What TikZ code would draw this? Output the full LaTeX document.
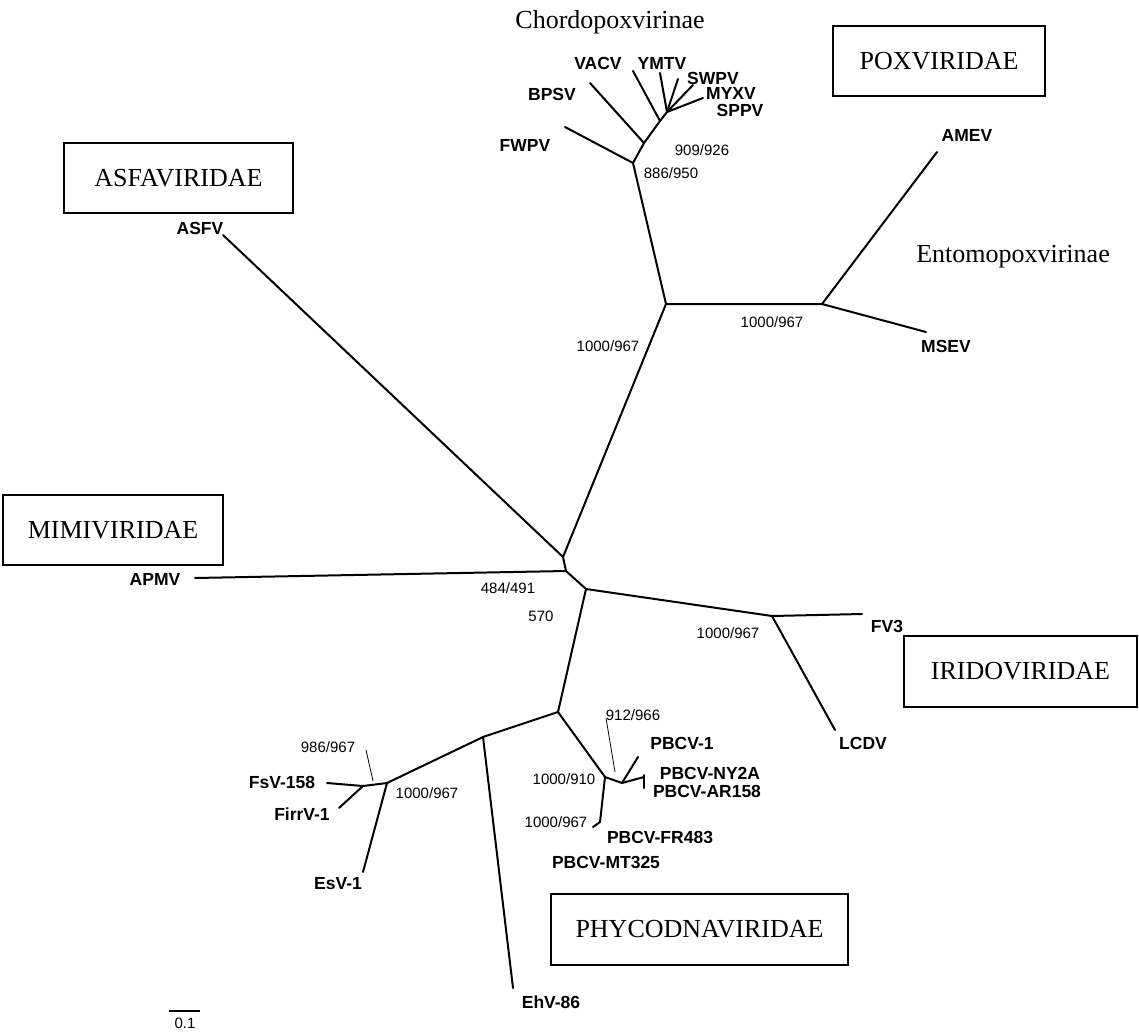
\documentclass[tikz,border=0pt]{standalone}
\usepackage{fontspec}
\setmainfont{Liberation Serif}
\newfontfamily\lsans{Liberation Sans}
\begin{document}
\begin{tikzpicture}[x=1pt,y=-1pt,
  br/.style={line width=2pt, line cap=round, line join=round},
  thinln/.style={line width=0.8pt},
  tax/.style={font=\lsans\bfseries\fontsize{17.5}{18}\selectfont, inner sep=0pt},
  bootlbl/.style={font=\lsans\fontsize{15}{16}\selectfont, inner sep=0pt},
  famtxt/.style={font=\fontsize{26}{28}\selectfont, inner sep=0pt},
  fambox/.style={draw, line width=2pt, font=\fontsize{26}{28}\selectfont, inner sep=0pt}]
\useasboundingbox (0,0) rectangle (1139,1032);
\fill[white] (0,0) rectangle (1139,1032);
% internal nodes
\coordinate (J) at (633,163);
\coordinate (K) at (644,143);
\coordinate (L) at (660,121);
\coordinate (N) at (667,112);
\coordinate (P) at (666,304);
\coordinate (Q) at (822,304);
\coordinate (A) at (563,557);
\coordinate (B) at (566,571);
\coordinate (C) at (586,589);
\coordinate (R) at (772,616);
\coordinate (D) at (558,712);
\coordinate (E) at (483,737);
\coordinate (F) at (387,783);
\coordinate (G) at (363,786);
\coordinate (H) at (605,777);
\coordinate (I) at (622,783);
\coordinate (X) at (644,777);
\coordinate (Hm) at (600,822);
% leaf ends
\coordinate (fwpvE) at (565,127);
\coordinate (bpsvE) at (590,83);
\coordinate (vacvE) at (633,71);
\coordinate (ymtvE) at (660,73);
\coordinate (l3E) at (678,79);
\coordinate (swpvE) at (693,85);
\coordinate (myxvE) at (703,98);
\coordinate (amevE) at (937,152);
\coordinate (msevE) at (926,332);
\coordinate (asfvE) at (223,235);
\coordinate (apmvE) at (195,578);
\coordinate (fv3E) at (862,614);
\coordinate (lcdvE) at (835,730);
\coordinate (ehvE) at (513,988);
\coordinate (esvE) at (363,872);
\coordinate (fsvE) at (327,783);
\coordinate (firrE) at (339,808);
\coordinate (pbcvE) at (638,757);
\coordinate (nyE) at (644,775);
\coordinate (arE) at (644,788);
\coordinate (mtE) at (593,827);
\coordinate (sb1) at (169,1011);
\coordinate (sb2) at (200,1011);
% branches
\draw[br] (P) -- (J) -- (fwpvE);
\draw[br] (J) -- (K) -- (bpsvE);
\draw[br] (K) -- (L) -- (vacvE);
\draw[br] (L) -- (N) -- (ymtvE);
\draw[br] (N) -- (l3E);
\draw[br] (N) -- (swpvE);
\draw[br] (N) -- (myxvE);
\draw[br] (P) -- (Q) -- (amevE);
\draw[br] (Q) -- (msevE);
\draw[br] (P) -- (A) -- (asfvE);
\draw[br] (A) -- (B) -- (apmvE);
\draw[br] (B) -- (C) -- (R) -- (fv3E);
\draw[br] (R) -- (lcdvE);
\draw[br] (C) -- (D) -- (E) -- (ehvE);
\draw[br] (E) -- (F) -- (esvE);
\draw[br] (F) -- (G) -- (fsvE);
\draw[br] (G) -- (firrE);
\draw[br] (D) -- (H) -- (Hm) -- (mtE);
\draw[br] (H) -- (I) -- (pbcvE);
\draw[br] (I) -- (X);
\draw[br] (nyE) -- (arE);
\draw[thinln] (366,750) -- (373,781);
\draw[thinln] (606,718) -- (615,772);
\draw[line width=1.2pt] (sb1) -- (sb2);
% taxon labels
\node[famtxt] (chordo) at (610,22) {Chordopoxvirinae};
\node[tax] (vacv) at (598,63) {VACV};
\node[tax] (ymtv) at (662,63) {YMTV};
\node[tax] (swpv) at (713,78) {SWPV};
\node[tax] (myxv) at (731,93) {MYXV};
\node[tax] (sppv) at (740,110) {SPPV};
\node[tax] (bpsv) at (552,94) {BPSV};
\node[tax] (fwpv) at (525,145) {FWPV};
\node[bootlbl] (b1) at (702,150) {909/926};
\node[bootlbl] (b2) at (671,173) {886/950};
\node[tax] (amev) at (967,135) {AMEV};
\node[famtxt] (ento) at (1013,257) {Entomopoxvirinae};
\node[tax] (msev) at (946,346) {MSEV};
\node[bootlbl] (b3) at (772,322) {1000/967};
\node[bootlbl] (b4) at (608,346) {1000/967};
\node[tax] (asfv) at (200,228) {ASFV};
\node[tax] (apmv) at (155,579) {APMV};
\node[bootlbl] (b5) at (508,588) {484/491};
\node[bootlbl] (b6) at (541,616) {570};
\node[bootlbl] (b7) at (728,633) {1000/967};
\node[tax] (fv3) at (887,626) {FV3};
\node[tax] (lcdv) at (863,743) {LCDV};
\node[bootlbl] (b8) at (633,715) {912/966};
\node[tax] (pbcv1) at (682,743) {PBCV-1};
\node[tax] (ny2a) at (710,773) {PBCV-NY2A};
\node[tax] (ar158) at (707,791) {PBCV-AR158};
\node[bootlbl] (b9) at (564,779) {1000/910};
\node[bootlbl] (b10) at (556,822) {1000/967};
\node[tax] (fr483) at (660,837) {PBCV-FR483};
\node[tax] (mt325) at (606,862) {PBCV-MT325};
\node[bootlbl] (b11) at (328,747) {986/967};
\node[tax] (fsv) at (282,782) {FsV-158};
\node[tax] (firr) at (302,814) {FirrV-1};
\node[tax] (esv) at (338,884) {EsV-1};
\node[bootlbl] (b12) at (427,793) {1000/967};
\node[tax] (ehv) at (551,1002) {EhV-86};
\node[bootlbl] (sbl) at (185,1023) {0.1};
% family boxes
\node[fambox, minimum width=229pt, minimum height=70pt] (asfa) at (178.5,178) {ASFAVIRIDAE};
\node[fambox, minimum width=212pt, minimum height=70pt] (pox) at (939,61) {POXVIRIDAE};
\node[fambox, minimum width=233pt, minimum height=71pt] (irido) at (1020.5,671.5) {IRIDOVIRIDAE};
\node[fambox, minimum width=220pt, minimum height=70pt] (mimi) at (113,530) {MIMIVIRIDAE};
\node[fambox, minimum width=297pt, minimum height=71pt] (phyco) at (699.5,929.5) {PHYCODNAVIRIDAE};
\end{tikzpicture}
\end{document}
